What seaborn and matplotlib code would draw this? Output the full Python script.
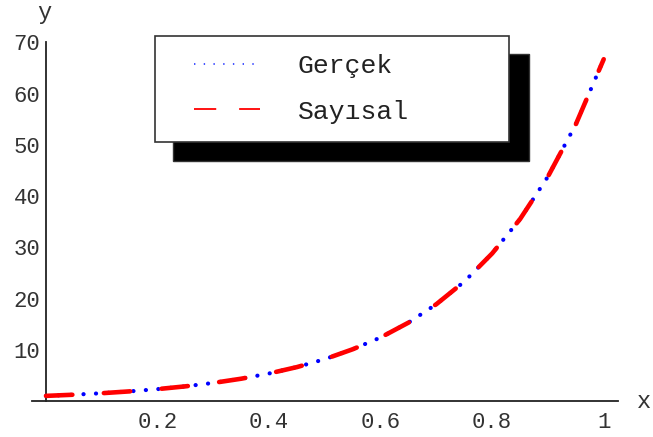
import matplotlib
matplotlib.use("Agg")
import matplotlib.pyplot as plt
from matplotlib.lines import Line2D
from matplotlib.patches import Rectangle
from matplotlib.ticker import MultipleLocator, FixedLocator
import numpy as np
import pandas as pd
import seaborn as sns

# Sample points of the exact and the numerical solution
x_vals = [0.00, 0.05, 0.10, 0.15, 0.20, 0.25, 0.30, 0.35, 0.40, 0.45, 0.50,
          0.55, 0.60, 0.65, 0.70, 0.75, 0.80, 0.85, 0.90, 0.95, 1.00]
gercek = [1.00, 1.23, 1.52, 1.88, 2.32, 2.86, 3.53, 4.35, 5.37, 6.62, 8.17,
          10.1, 12.4, 15.3, 18.9, 23.3, 28.8, 35.5, 43.8, 54.0, 66.7]
sayisal = [1.00, 1.23, 1.52, 1.88, 2.32, 2.86, 3.53, 4.35, 5.37, 6.62, 8.17,
           10.1, 12.4, 15.3, 18.9, 23.3, 28.8, 35.5, 43.8, 54.0, 66.7]
series_names = ["Gerçek", "Sayısal"]
x_tick_vals = [0.2, 0.4, 0.6, 0.8, 1.0]
x_tick_labels = ["0.2", "0.4", "0.6", "0.8", "1"]
y_tick_vals = [10, 20, 30, 40, 50, 60, 70]

sns.set_style("white")
plt.rcParams["font.family"] = ["Liberation Mono", "DejaVu Sans Mono"]
plt.rcParams["lines.scale_dashes"] = False

W, H = 653, 437
fig = plt.figure(figsize=(W / 100, H / 100), dpi=100)
ax = fig.add_axes([32 / W, 1 - 401 / H, (618 - 32) / W, (401 - 42.3) / H])

df = pd.DataFrame({"x": x_vals, "Gerçek": gercek, "Sayısal": sayisal})

sns.lineplot(data=df, x="x", y="Gerçek", ax=ax, color="#0000ff",
             linewidth=3.0, linestyle=(0, (0.1, 8.9)),
             dash_capstyle="round", estimator=None, sort=True, zorder=2)
sns.lineplot(data=df, x="x", y="Sayısal", ax=ax, color="#ff0000",
             linewidth=3.3, linestyle=(0, (19.0, 22.7)),
             dash_capstyle="round", estimator=None, sort=True, zorder=3)

ax.set_xlim(-0.0251, 1.0256)
ax.set_ylim(0, 70)
ax.set_xlabel("")
ax.set_ylabel("")

# Axes cross at the origin, Mathematica style
for side in ("top", "right"):
    ax.spines[side].set_visible(False)
ax.spines["left"].set_position(("data", 0))
ax.spines["bottom"].set_position(("data", 0))
for side in ("left", "bottom"):
    ax.spines[side].set_color("#222222")
    ax.spines[side].set_linewidth(1.3)

ax.xaxis.set_major_locator(FixedLocator(x_tick_vals))
ax.set_xticklabels(x_tick_labels)
ax.xaxis.set_minor_locator(MultipleLocator(0.05))
ax.yaxis.set_major_locator(FixedLocator(y_tick_vals))
ax.yaxis.set_minor_locator(MultipleLocator(2))
ax.tick_params(which="both", direction="in", color="#222222", width=1.0,
               labelsize=16, labelcolor="#333333")
ax.tick_params(which="major", length=5)
ax.tick_params(which="minor", length=3)
ax.tick_params(axis="x", which="major", pad=8)
ax.tick_params(axis="y", which="major", pad=4)

fig.text(44 / W, 1 - 12 / H, "y", ha="center", va="center", fontsize=17,
         color="#333333")
fig.text(644 / W, 1 - 402 / H, "x", ha="center", va="center", fontsize=17,
         color="#333333")

# Legend frame with a solid drop shadow
ax.add_patch(Rectangle((173 / W, 1 - 161 / H), (529 - 173) / W, (161 - 54) / H,
                       transform=fig.transFigure, facecolor="black",
                       edgecolor="#333333", linewidth=1.0, clip_on=False,
                       zorder=6))
ax.add_patch(Rectangle((155 / W, 1 - 142 / H), (509 - 155) / W, (142 - 36) / H,
                       transform=fig.transFigure, facecolor="white",
                       edgecolor="#333333", linewidth=1.2, clip_on=False,
                       zorder=7))

handles = [
    Line2D([], [], color="#3344ff", linewidth=1.3, linestyle=(0, (1.0, 6.0))),
    Line2D([], [], color="#ff0000", linewidth=1.3, linestyle=(0, (16.0, 16.5))),
]
leg = ax.legend(handles, series_names, loc="upper left",
                bbox_to_anchor=(194 / W, 1 - 54.5 / H), bbox_transform=fig.transFigure,
                frameon=False, fontsize=19, handlelength=2.5, handletextpad=1.44,
                labelspacing=0.8, borderpad=0, borderaxespad=0)
leg.set_zorder(8)
for t in leg.get_texts():
    t.set_color("#222222")

fig.savefig("out.png", dpi=100)
